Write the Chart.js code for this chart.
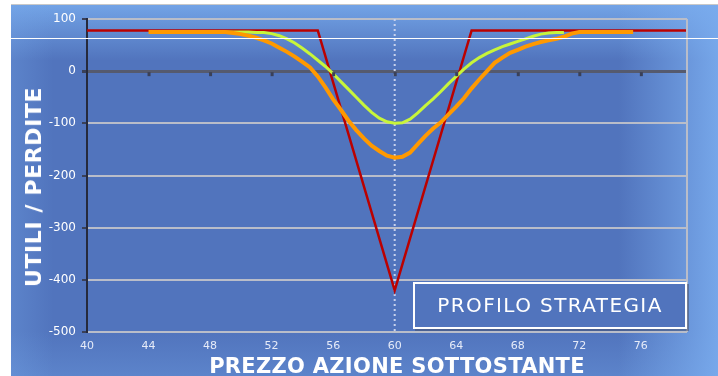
<!DOCTYPE html>
<html>
<head>
<meta charset="utf-8">
<script src="https://cdn.jsdelivr.net/npm/chart.js@4"></script>
<style>
  html, body { margin: 0; padding: 0; background: #ffffff; }
  #wrap { position: relative; width: 718px; height: 376px; overflow: hidden; }
  #bg {
    position: absolute; left: 11px; top: 5px; width: 707px; height: 371px;
    background:
      linear-gradient(to right, rgba(118,168,234,0.3) 0%, rgba(118,168,234,0) 6%, rgba(118,168,234,0) 86%, rgba(122,172,238,0.9) 100%),
      linear-gradient(to bottom, rgba(118,168,234,0.9) 0%, rgba(118,168,234,0) 15%, rgba(118,168,234,0) 88%, rgba(118,168,234,0.3) 100%),
      #5174bd;
  }
  #topline { position: absolute; left: 11px; top: 4px; width: 707px; height: 1px; background: #c8c8c8; }
  #whiteline { position: absolute; left: 11px; top: 38px; width: 707px; height: 1px; background: #ffffff; z-index: 3; }
  canvas { position: absolute; left: 0; top: 0; z-index: 2; }
  .title {
    position: absolute; z-index: 4; color: #ffffff; white-space: nowrap;
    font-family: "DejaVu Sans", sans-serif; font-weight: bold; line-height: 22px;
  }
  #xTitle { left: 397px; top: 366px; font-size: 21px; letter-spacing: 0.3px; transform: translate(-50%, -50%); }
  #yTitle { left: 34px; top: 187px; font-size: 22px; letter-spacing: 0.6px; transform: translate(-50%, -50%) rotate(-90deg); }
  #legendBox {
    position: absolute; z-index: 4; left: 413px; top: 282px; width: 274px; height: 47px;
    box-sizing: border-box; border: 2px solid #ffffff; background: #5174bd;
    box-shadow: 2px 2px 0 rgba(70,80,110,0.55);
    color: #ffffff; font: 20px "DejaVu Sans", sans-serif; letter-spacing: 1.4px;
    line-height: 43px; text-align: center;
  }
</style>
</head>
<body>
<div id="wrap">
  <div id="bg"></div>
  <div id="topline"></div>
  <canvas id="profilo" width="718" height="376"></canvas>
  <div id="whiteline"></div>
  <div class="title" id="xTitle">PREZZO AZIONE SOTTOSTANTE</div>
  <div class="title" id="yTitle">UTILI / PERDITE</div>
  <div id="legendBox">PROFILO STRATEGIA</div>
</div>
<script>
// price levels on the x axis
const xTickLabels = [40, 44, 48, 52, 56, 60, 64, 68, 72, 76];
const yTickLabels = [100, 0, -100, -200, -300, -400, -500];
const currentPrice = 60;

// at expiry
const redPrices = [40, 55, 60, 65, 79];
const redPL = [78, 78, -420, 78, 78];

// earlier date (more time value)
const greenPrices = [49, 49.5, 50, 50.5, 51, 51.5, 52, 52.5, 53, 53.5, 54, 54.5, 55, 55.5, 56, 56.5, 57, 57.5, 58, 58.5,
  59, 59.5, 60, 60.5, 61, 61.5, 62, 62.5, 63, 63.5, 64, 64.5, 65, 65.5, 66, 66.5, 67, 67.5, 68, 68.5, 69, 69.5, 70, 70.5, 71];
const greenPL = [75, 75, 75, 75, 74, 74, 72, 68, 62, 54, 44, 33, 21, 9, -5, -20, -35, -50, -65, -79,
  -90, -97, -100, -99, -92, -80, -66, -53, -39, -24, -10, 4, 16, 26, 34, 41, 47, 52, 57, 62, 67, 71, 73, 74, 74];

// intermediate date
const orangePrices = [44, 44.5, 45, 45.5, 46, 46.5, 47, 47.5, 48, 48.5, 49, 49.5, 50, 50.5, 51, 51.5, 52, 52.5, 53, 53.5,
  54, 54.5, 55, 55.5, 56, 56.5, 57, 57.5, 58, 58.5, 59, 59.5, 60, 60.5, 61, 61.5, 62, 62.5, 63, 63.5,
  64, 64.5, 65, 65.5, 66, 66.5, 67, 67.5, 68, 68.5, 69, 69.5, 70, 70.5, 71, 71.5, 72, 72.5, 73, 73.5,
  74, 74.5, 75, 75.5];
const orangePL = [75, 75, 75, 75, 75, 75, 75, 75, 75, 75, 75, 73, 71, 68, 64, 59, 53, 45, 37, 28,
  18, 7, -10, -31, -54, -74, -95, -113, -129, -143, -153, -162, -166, -164, -156, -140, -124, -110, -98, -83,
  -68, -52, -33, -16, 0, 16, 26, 35, 41, 47, 52, 56, 59, 62, 66, 72, 75, 75, 75, 75,
  75, 75, 75, 75];

const toPoints = (xs, ys) => xs.map((x, i) => ({ x, y: ys[i] }));

// right border of plot + little tick marks on the zero line
const plotFrame = {
  id: 'plotFrame',
  afterDatasetsDraw(chart) {
    const { ctx, chartArea, scales } = chart;
    ctx.save();
    ctx.strokeStyle = '#b9bdc9';
    ctx.lineWidth = 2;
    ctx.beginPath();
    ctx.moveTo(chartArea.right, chartArea.top);
    ctx.lineTo(chartArea.right, chartArea.bottom);
    ctx.stroke();
    const y0 = scales.y.getPixelForValue(0);
    ctx.fillStyle = '#3a4058';
    xTickLabels.slice(1).forEach((v) => {
      const px = scales.x.getPixelForValue(v);
      ctx.fillRect(px - 1, y0 + 1, 3, 4);
    });
    ctx.restore();
  },
};

new Chart(document.getElementById('profilo'), {
  type: 'line',
  data: {
    datasets: [
      {
        data: toPoints(orangePrices, orangePL),
        borderColor: '#ff9900',
        borderWidth: 4,
      },
      {
        data: toPoints(greenPrices, greenPL),
        borderColor: '#c8f53a',
        borderWidth: 3,
      },
      {
        data: toPoints(redPrices, redPL),
        borderColor: '#bb0000',
        borderWidth: 2.5,
      },
      {
        data: [{ x: currentPrice, y: 100 }, { x: currentPrice, y: -500 }],
        borderColor: '#c9d2ec',
        borderWidth: 2,
        borderDash: [2, 3],
      },
    ],
  },
  options: {
    responsive: false,
    devicePixelRatio: 1,
    animation: false,
    elements: {
      point: { radius: 0 },
      line: { tension: 0, fill: false },
    },
    layout: { padding: { left: 12, right: 31, top: 19, bottom: 0 } },
    plugins: {
      legend: { display: false },
      tooltip: { enabled: false },
    },
    scales: {
      x: {
        type: 'linear',
        min: 40,
        max: 79,
        afterBuildTicks: (s) => { s.ticks = xTickLabels.map((v) => ({ value: v })); },
        afterFit: (s) => { s.height = 44; },
        grid: { display: false, drawTicks: false },
        border: { display: false },
        ticks: {
          color: '#e6ebf8',
          padding: 8,
          maxRotation: 0,
          autoSkip: false,
          font: { family: 'DejaVu Sans', size: 11 },
        },
      },
      y: {
        min: -500,
        max: 100,
        afterBuildTicks: (s) => { s.ticks = yTickLabels.map((v) => ({ value: v })); },
        afterFit: (s) => { s.width = 75; },
        grid: {
          color: (c) => (c.tick && c.tick.value === 0 ? '#555a6e' : '#b9bdc9'),
          lineWidth: (c) => (c.tick && c.tick.value === 0 ? 3 : 2),
          tickColor: '#3a4058',
          tickLength: 5,
        },
        border: { color: '#262a3c', width: 2 },
        ticks: {
          color: '#ffffff',
          padding: 6,
          font: { family: 'DejaVu Sans', size: 12 },
        },
      },
    },
  },
  plugins: [plotFrame],
});
</script>
</body>
</html>
